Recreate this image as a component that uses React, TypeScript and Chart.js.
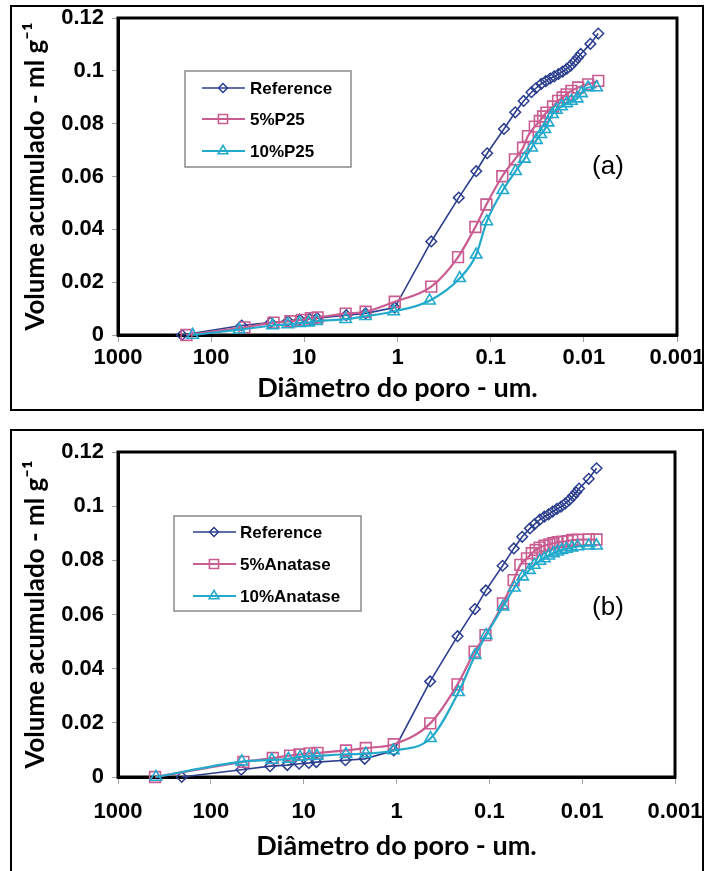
import React, { useEffect, useRef } from 'react';
import { Chart, registerables } from 'chart.js';
import { drawPoint } from 'chart.js/helpers';

Chart.register(...registerables);

// ---------- tick labels ----------
const xTickValues = [1000, 100, 10, 1, 0.1, 0.01, 0.001];
const xTickLabels = ['1000', '100', '10', '1', '0.1', '0.01', '0.001'];
const yTickValues = [0, 0.02, 0.04, 0.06, 0.08, 0.1, 0.12];
const yTickLabels = ['0', '0.02', '0.04', '0.06', '0.08', '0.1', '0.12'];

// ---------- data: pore diameter (um) vs cumulative volume (ml/g) ----------
const refDiameter = [206, 47, 23, 15, 11.2, 8.8, 7.3, 3.55, 2.2, 1.07, 0.434, 0.22, 0.143, 0.109, 0.072, 0.0545, 0.0443, 0.0365, 0.0325, 0.0286, 0.0256, 0.023, 0.0208, 0.0187, 0.0169, 0.0152, 0.0138, 0.0126, 0.0116, 0.0108, 0.0085, 0.007];
const refVolumeA = [0, 0.0036, 0.0047, 0.0053, 0.0058, 0.0061, 0.0064, 0.0075, 0.0082, 0.0104, 0.0354, 0.052, 0.062, 0.0688, 0.078, 0.0843, 0.0886, 0.0919, 0.0935, 0.0951, 0.0961, 0.0971, 0.0979, 0.0988, 0.0997, 0.1008, 0.102, 0.1035, 0.105, 0.1064, 0.1102, 0.1141];
const refVolumeB = [0, 0.0027, 0.004, 0.0044, 0.0049, 0.0052, 0.0055, 0.0062, 0.0067, 0.0098, 0.0353, 0.052, 0.062, 0.0689, 0.078, 0.0844, 0.0887, 0.0918, 0.0934, 0.095, 0.0961, 0.097, 0.098, 0.099, 0.0998, 0.101, 0.1022, 0.1037, 0.1051, 0.1065, 0.1101, 0.114];

const p25FiveDiameter = [184, 44, 21.4, 14.1, 10.6, 8.5, 7.2, 3.6, 2.2, 1.07, 0.434, 0.224, 0.146, 0.111, 0.075, 0.055, 0.0449, 0.0398, 0.0336, 0.0297, 0.0274, 0.0252, 0.0214, 0.0189, 0.0169, 0.0153, 0.0136, 0.0115, 0.009, 0.007];
const p25FiveVolume = [0, 0.0029, 0.0047, 0.0052, 0.0057, 0.0064, 0.0067, 0.0081, 0.0088, 0.0126, 0.0183, 0.0295, 0.0409, 0.0494, 0.0601, 0.0665, 0.0709, 0.0753, 0.0789, 0.081, 0.0827, 0.0842, 0.0865, 0.0886, 0.0899, 0.0911, 0.0924, 0.0937, 0.0949, 0.0962];

const p25TenDiameter = [158, 50, 21.9, 15.1, 11.3, 9.0, 7.4, 3.6, 2.2, 1.1, 0.453, 0.215, 0.143, 0.11, 0.074, 0.054, 0.0434, 0.0363, 0.0323, 0.029, 0.0262, 0.0242, 0.0217, 0.0197, 0.0174, 0.0153, 0.0136, 0.0118, 0.0106, 0.009, 0.0073];
const p25TenVolume = [0, 0.002, 0.0036, 0.004, 0.0045, 0.0047, 0.0052, 0.006, 0.0071, 0.0089, 0.013, 0.0215, 0.0304, 0.043, 0.0548, 0.062, 0.0667, 0.0709, 0.0738, 0.076, 0.0779, 0.0804, 0.0836, 0.0852, 0.0865, 0.0877, 0.0886, 0.0895, 0.0915, 0.0937, 0.0937];

const anaFiveDiameter = [399, 44.6, 21.5, 14, 11.1, 8.65, 7.1, 3.5, 2.14, 1.07, 0.433, 0.22, 0.144, 0.11, 0.0713, 0.0547, 0.0463, 0.0393, 0.0349, 0.0316, 0.0287, 0.0254, 0.0225, 0.0204, 0.0184, 0.0163, 0.0144, 0.0128, 0.0111, 0.0085, 0.007];
const anaFiveVolume = [0, 0.0056, 0.007, 0.0079, 0.0083, 0.0087, 0.0089, 0.0098, 0.0107, 0.0121, 0.0198, 0.0342, 0.0463, 0.0524, 0.0641, 0.0727, 0.0783, 0.0807, 0.0826, 0.0838, 0.0847, 0.0854, 0.0859, 0.0863, 0.0867, 0.0869, 0.0871, 0.0875, 0.0876, 0.0877, 0.0877];

const anaTenDiameter = [390, 46.4, 22, 14.6, 10.9, 8.7, 7.2, 3.5, 2.14, 1.08, 0.43, 0.215, 0.142, 0.108, 0.0713, 0.0537, 0.0438, 0.037, 0.0327, 0.0286, 0.0255, 0.0229, 0.0204, 0.0184, 0.0166, 0.0148, 0.0129, 0.0112, 0.0085, 0.007];
const anaTenVolume = [0, 0.0057, 0.0063, 0.0067, 0.0074, 0.0077, 0.0078, 0.0084, 0.0086, 0.0098, 0.0143, 0.0313, 0.045, 0.0524, 0.0629, 0.0699, 0.074, 0.0764, 0.0783, 0.0798, 0.0807, 0.0817, 0.0826, 0.0832, 0.0838, 0.0842, 0.0847, 0.0851, 0.0854, 0.0854];

// ---------- styles ----------
const NAVY = '#2C3E8E';
const PINK = '#C95C90';
const CYAN = '#22A9CB';
const TICK_SIZE = 22;
const TICK_FONT = { family: "'Liberation Sans', Arial, sans-serif", size: TICK_SIZE, weight: 'bold' as const };
const TITLE_FAMILY = "Lato, 'Open Sans', sans-serif";
const Y_TITLE_SIZE = 26;
const X_TITLE_SIZE = 27;

const pts = (d: number[], v: number[]) => d.map((x, i) => ({ x, y: v[i] }));

function refSet(label: string, d: number[], v: number[]) {
  return {
    label, data: pts(d, v), borderColor: NAVY, borderWidth: 1.6, pointStyle: 'rectRot',
    pointRadius: 5.3, pointBorderWidth: 1.5, pointBorderColor: NAVY, pointBackgroundColor: 'rgba(0,0,0,0)',
    tension: 0, clip: false, order: 2,
  };
}
function smoothSet(label: string, d: number[], v: number[], color: string, style: string, radius: number, order: number) {
  return {
    label, data: pts(d, v), borderColor: color, borderWidth: 2.2, pointStyle: style,
    pointRadius: radius, pointBorderWidth: 1.6, pointBorderColor: color, pointBackgroundColor: 'rgba(0,0,0,0)',
    cubicInterpolationMode: 'monotone', clip: false, order,
  };
}

const decorPlugin = {
  id: 'panelDecor',
  beforeDatasetsDraw(chart: any) {
    const { ctx, chartArea: a } = chart;
    ctx.save();
    ctx.strokeStyle = '#000';
    ctx.lineWidth = 3;
    ctx.strokeRect(a.left, a.top, a.right - a.left, a.bottom - a.top);
    ctx.restore();
  },
  afterDatasetsDraw(chart: any, _args: any, opts: any) {
    const ctx = chart.ctx;
    const L = opts.legend;
    ctx.save();
    ctx.fillStyle = '#fff';
    ctx.fillRect(L.x, L.y, L.w, L.h);
    ctx.strokeStyle = '#8a8a8a';
    ctx.lineWidth = 1.5;
    ctx.strokeRect(L.x, L.y, L.w, L.h);
    chart.data.datasets.forEach((ds: any, i: number) => {
      const y = L.rows[i];
      ctx.strokeStyle = ds.borderColor;
      ctx.lineWidth = ds.borderWidth;
      ctx.beginPath();
      ctx.moveTo(L.lineX1, y);
      ctx.lineTo(L.lineX2, y);
      ctx.stroke();
      ctx.lineWidth = ds.pointBorderWidth;
      ctx.fillStyle = 'rgba(0,0,0,0)';
      drawPoint(ctx, { pointStyle: ds.pointStyle, radius: ds.pointRadius * 0.85, rotation: 0, borderWidth: ds.pointBorderWidth } as any, L.markX, y);
      ctx.fillStyle = '#000';
      ctx.font = "bold 17px 'Liberation Sans', Arial, sans-serif";
      ctx.textAlign = 'left';
      ctx.textBaseline = 'middle';
      ctx.fillText(ds.label, L.textX, y + 1);
    });
    const T = opts.tag;
    ctx.fillStyle = '#000';
    ctx.font = "26px 'Liberation Sans', Arial, sans-serif";
    ctx.textAlign = 'center';
    ctx.textBaseline = 'middle';
    ctx.fillText(T.text, T.x, T.y);
    ctx.restore();
  },
};

function labelFor(values: number[], labels: string[], v: number, log: boolean) {
  const i = values.findIndex((t) => (log ? Math.abs(Math.log10(t) - Math.log10(v)) < 1e-6 : Math.abs(t - v) < 1e-9));
  return i >= 0 ? labels[i] : '';
}

function makeConfig(p: any) {
  return {
    type: 'line',
    data: { datasets: p.datasets },
    plugins: [decorPlugin],
    options: {
      responsive: false,
      animation: false,
      events: [],
      layout: { padding: p.padding },
      plugins: {
        legend: { display: false },
        tooltip: { enabled: false },
        panelDecor: { legend: p.legend, tag: p.tag },
      },
      scales: {
        x: {
          type: 'logarithmic', reverse: true, min: 0.001, max: 1000,
          afterBuildTicks: (s: any) => { s.ticks = xTickValues.slice().reverse().map((value) => ({ value })); },
          afterFit: (s: any) => { s.height = p.xHeight; s.paddingLeft = 0; s.paddingRight = 0; },
          ticks: {
            autoSkip: false, maxRotation: 0, minRotation: 0, padding: p.xTickPad, color: '#000', font: TICK_FONT,
            callback: (v: any) => labelFor(xTickValues, xTickLabels, Number(v), true),
          },
          grid: { drawOnChartArea: false, drawTicks: true, tickLength: 7, color: '#9aa59a', lineWidth: 1 },
          border: { display: true, color: '#000', width: 3 },
          title: {
            display: true, text: 'Diâmetro do poro - um.', color: '#000',
            font: { family: TITLE_FAMILY, size: X_TITLE_SIZE, weight: 'bold' }, padding: { top: 0, bottom: p.xTitlePad },
          },
        },
        y: {
          type: 'linear', min: 0, max: 0.12,
          afterBuildTicks: (s: any) => { s.ticks = yTickValues.map((value) => ({ value })); },
          afterFit: (s: any) => { s.width = 118; s.paddingTop = 0; s.paddingBottom = 0; },
          ticks: {
            padding: 8, color: '#000', font: TICK_FONT,
            callback: (v: any) => labelFor(yTickValues, yTickLabels, Number(v), false),
          },
          grid: { drawOnChartArea: false, drawTicks: true, tickLength: 6, color: '#9aa59a', lineWidth: 1 },
          border: { display: true, color: '#000', width: 3 },
          title: {
            display: true, text: 'Volume acumulado - ml g⁻¹', color: '#000',
            font: { family: TITLE_FAMILY, size: Y_TITLE_SIZE, weight: 'bold' }, padding: { top: 36 - Y_TITLE_SIZE * 0.6, bottom: 0 },
          },
        },
      },
    },
  };
}

const panelA = {
  top: 0, height: 420,
  padding: { left: 0, top: 18, right: 27, bottom: 0 },
  xHeight: 85, xTickPad: 23 - 7 - TICK_SIZE * 0.6, xTitlePad: 32 - X_TITLE_SIZE * 0.6,
  legend: { x: 185, y: 71, w: 166, h: 96, rows: [88, 119, 151], lineX1: 202, lineX2: 245, markX: 223, textX: 250 },
  tag: { text: '(a)', x: 608, y: 167 },
  datasets: [
    refSet('Reference', refDiameter, refVolumeA),
    smoothSet('5%P25', p25FiveDiameter, p25FiveVolume, PINK, 'rect', 7.6, 1),
    smoothSet('10%P25', p25TenDiameter, p25TenVolume, CYAN, 'triangle', 6.6, 0),
  ],
};

const panelB = {
  top: 420, height: 451,
  padding: { left: 0, top: 32, right: 29, bottom: 0 },
  xHeight: 94, xTickPad: 34.7 - 7 - TICK_SIZE * 0.6, xTitlePad: 24.3 - X_TITLE_SIZE * 0.6,
  legend: { x: 174, y: 96, w: 187, h: 95, rows: [112, 144, 176], lineX1: 193, lineX2: 236, markX: 214, textX: 240 },
  tag: { text: '(b)', x: 608, y: 188 },
  datasets: [
    refSet('Reference', refDiameter, refVolumeB),
    smoothSet('5%Anatase', anaFiveDiameter, anaFiveVolume, PINK, 'rect', 7.6, 1),
    smoothSet('10%Anatase', anaTenDiameter, anaTenVolume, CYAN, 'triangle', 6.6, 0),
  ],
};

function PanelChart({ panel }: { panel: any }) {
  const ref = useRef<HTMLCanvasElement | null>(null);
  useEffect(() => {
    if (!ref.current) return;
    const chart = new Chart(ref.current, makeConfig(panel) as any);
    return () => chart.destroy();
  }, [panel]);
  return (
    <canvas
      ref={ref}
      width={704}
      height={panel.height}
      style={{ position: 'absolute', left: 0, top: panel.top, width: 704, height: panel.height }}
    />
  );
}

export default function App() {
  return (
    <div style={{ position: 'absolute', left: 0, top: 0, width: 704, height: 871, overflow: 'hidden', background: '#fff' }}>
      <div style={{ position: 'absolute', left: 10, top: 5, width: 694, height: 406, border: '2px solid #000', boxSizing: 'border-box' }} />
      <div style={{ position: 'absolute', left: 10, top: 429, width: 694, height: 470, border: '2px solid #000', boxSizing: 'border-box' }} />
      <PanelChart panel={panelA} />
      <PanelChart panel={panelB} />
    </div>
  );
}
